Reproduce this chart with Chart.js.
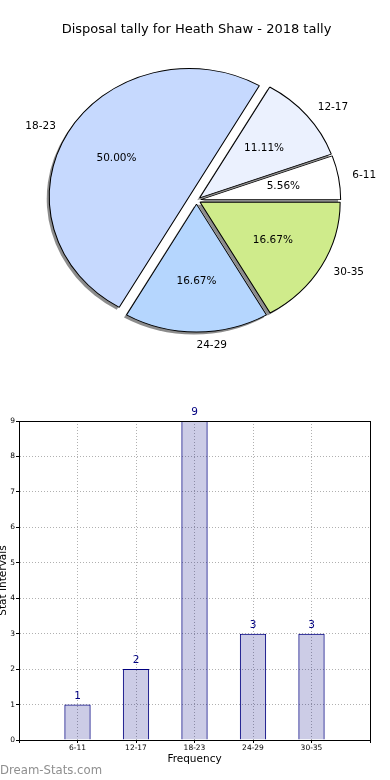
<!DOCTYPE html>
<html>
<head>
<meta charset="utf-8">
<script src="https://cdn.jsdelivr.net/npm/chart.js@4.4.0/dist/chart.umd.min.js"></script>
<style>
  html, body { margin: 0; padding: 0; background: #fff; }
  #page { position: relative; width: 390px; height: 780px; overflow: hidden; }
  #pieChart { position: absolute; left: 0; top: 0; }
  #barChart { position: absolute; left: 0; top: 390px; }
  #mark { position: absolute; left: 0; top: 763px; font: 11.7px "DejaVu Sans", sans-serif; line-height: 14px; color: #8f8f8f; }
</style>
</head>
<body>
<div id="page">
  <canvas id="pieChart" width="390" height="390"></canvas>
  <canvas id="barChart" width="390" height="390"></canvas>
  <div id="mark">Dream-Stats.com</div>
</div>
<script>
const chartTitle = "Disposal tally for Heath Shaw - 2018 tally";
const categories = ["6-11", "12-17", "18-23", "24-29", "30-35"];
const tally = [1, 2, 9, 3, 3];
const yMax = 9;

// slice styling, same order as categories
const sliceColours = ["#ffffff", "#ebf1fe", "#c6d9fe", "#b5d6fe", "#cfeb8b"];
const explodePx = [4, 4, 8, 4, 4];

Chart.defaults.font.family = "'DejaVu Sans', sans-serif";
Chart.defaults.color = "#000";

// matplotlib draws counter-clockwise from 3 o'clock, chart.js clockwise -> reverse
const pieLabels = [...categories].reverse();
const pieValues = [...tally].reverse();
const pieColours = [...sliceColours].reverse();
const pieExplode = [...explodePx].reverse();

// pie is a bit wider than tall in the original
const SX = 1.045, SY = 0.955;
const SHADOW = 2.5;

function midShift(arc, d) {
  const mid = (arc.startAngle + arc.endAngle) / 2;
  return [Math.cos(mid) * d, Math.sin(mid) * d];
}

const pieDraw = {
  id: "pieDraw",
  beforeDatasetDraw(chart, args) {
    const ctx = chart.ctx;
    const arcs = args.meta.data;
    const cx = arcs[0].x, cy = arcs[0].y;
    ctx.save();
    ctx.translate(cx, cy);
    ctx.scale(SX, SY);
    ctx.translate(-cx, -cy);
    // shadows under everything
    arcs.forEach((arc, i) => {
      const [dx, dy] = midShift(arc, pieExplode[i]);
      const x = arc.x + dx - SHADOW / SX;
      const y = arc.y + dy + SHADOW / SY;
      ctx.beginPath();
      ctx.moveTo(x, y);
      ctx.arc(x, y, arc.outerRadius, arc.startAngle, arc.endAngle);
      ctx.closePath();
      ctx.fillStyle = "rgba(0,0,0,0.45)";
      ctx.fill();
    });
    arcs.forEach((arc, i) => {
      const [dx, dy] = midShift(arc, pieExplode[i]);
      ctx.save();
      ctx.translate(dx, dy);
      arc.draw(ctx);
      ctx.restore();
    });
    ctx.restore();
    return false;
  },
  afterDatasetsDraw(chart) {
    const ctx = chart.ctx;
    const arcs = chart.getDatasetMeta(0).data;
    const total = pieValues.reduce((a, b) => a + b, 0);
    ctx.save();
    ctx.font = "10.5px 'DejaVu Sans'";
    ctx.fillStyle = "#000";
    ctx.textBaseline = "middle";
    arcs.forEach((arc, i) => {
      const mid = (arc.startAngle + arc.endAngle) / 2;
      const pos = (k) => {
        const r = pieExplode[i] + k * arc.outerRadius;
        return [arc.x + SX * Math.cos(mid) * r, arc.y + SY * Math.sin(mid) * r];
      };
      const [px, py] = pos(0.6);
      ctx.textAlign = "center";
      ctx.fillText((pieValues[i] / total * 100).toFixed(2) + "%", px, py);
      const [lx, ly] = pos(1.1);
      ctx.textAlign = Math.cos(mid) >= 0 ? "left" : "right";
      ctx.fillText(pieLabels[i], lx, ly);
    });
    ctx.restore();
  }
};

const pieChart = new Chart(document.getElementById("pieChart"), {
  type: "pie",
  data: {
    labels: pieLabels,
    datasets: [{
      data: pieValues,
      backgroundColor: pieColours,
      borderColor: "#000",
      borderWidth: 1,
      hoverOffset: 0,
      rotation: 90,
      radius: 134,
    }],
  },
  options: {
    responsive: false,
    animation: false,
    devicePixelRatio: 1,
    layout: { padding: { top: 0, bottom: 37, left: 3, right: 0 } },
    plugins: {
      legend: { display: false },
      tooltip: { enabled: false },
      title: {
        display: true,
        text: chartTitle,
        color: "#000",
        font: { size: 13, weight: "normal" },
        padding: { top: 22, bottom: 10 },
      },
    },
  },
  plugins: [pieDraw],
});

const barExtras = {
  id: "barExtras",
  afterDatasetsDraw(chart) {
    const ctx = chart.ctx;
    const bars = chart.getDatasetMeta(0).data;
    const values = chart.data.datasets[0].data;
    ctx.save();
    ctx.font = "10.5px 'DejaVu Sans'";
    ctx.fillStyle = "#000080";
    ctx.textAlign = "center";
    ctx.textBaseline = "alphabetic";
    bars.forEach((bar, i) => {
      if (values[i] == null) return;
      ctx.fillText(String(values[i]), bar.x, bar.y - 6);
    });
    // box around the plot
    const a = chart.chartArea;
    ctx.strokeStyle = "#000";
    ctx.lineWidth = 1;
    ctx.strokeRect(Math.round(a.left) + 0.5, Math.round(a.top) + 0.5,
      Math.round(a.right - a.left), Math.round(a.bottom - a.top));
    ctx.restore();
  }
};

const barChart = new Chart(document.getElementById("barChart"), {
  type: "bar",
  data: {
    labels: ["", ...categories, ""],
    datasets: [{
      data: [null, ...tally, null],
      backgroundColor: "rgba(0,0,128,0.2)",
      borderColor: "#000080",
      borderWidth: 1,
      barPercentage: 0.45,
      categoryPercentage: 1,
    }],
  },
  options: {
    responsive: false,
    animation: false,
    devicePixelRatio: 1,
    layout: { padding: { top: 31, right: 20, left: 0, bottom: 0 } },
    plugins: {
      legend: { display: false },
      tooltip: { enabled: false },
    },
    scales: {
      x: {
        offset: false,
        grid: { offset: false, color: "#b0b0b0", tickColor: "#000", tickLength: 3 },
        border: { color: "#000", width: 1, dash: [1, 2] },
        ticks: { font: { size: 7.5 }, color: "#000", padding: 1, autoSkip: false, maxRotation: 0 },
        title: { display: true, text: "Frequency", font: { size: 10.5 }, color: "#000", padding: { top: 0, bottom: 14 } },
        afterFit: (s) => { s.height = 40; },
      },
      y: {
        min: 0,
        max: yMax,
        grid: { color: "#b0b0b0", tickColor: "#000", tickLength: 3 },
        border: { color: "#000", width: 1, dash: [1, 2] },
        ticks: { stepSize: 1, font: { size: 7.5 }, color: "#000", padding: 1 },
        title: { display: true, text: "Stat Intervals", font: { size: 10.5 }, color: "#000", padding: { top: -3, bottom: 0 } },
        afterFit: (s) => { s.width = 19; },
      },
    },
  },
  plugins: [barExtras],
});
</script>
</body>
</html>
